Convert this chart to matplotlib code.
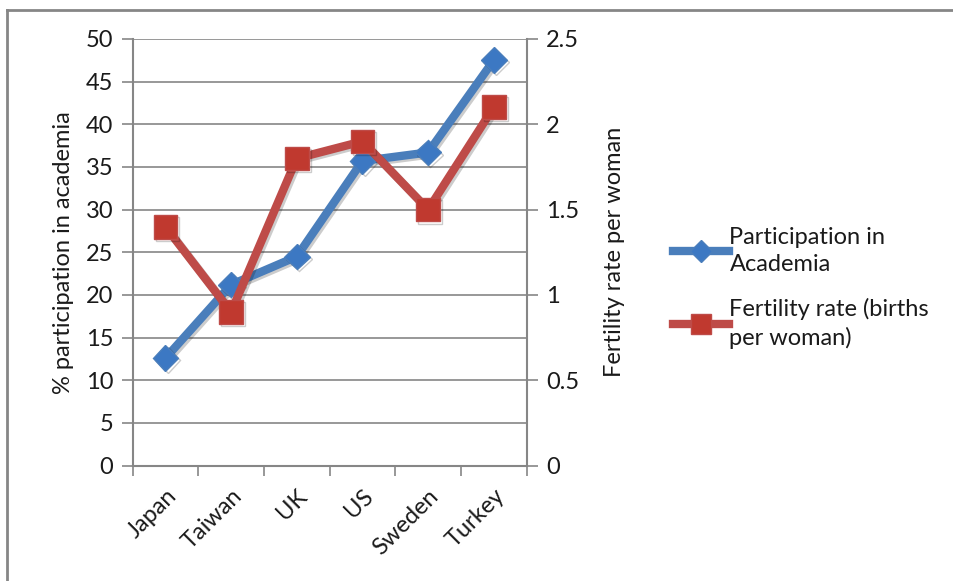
import matplotlib.pyplot as plt
import matplotlib.patheffects as pe
from matplotlib.lines import Line2D
import numpy as np

countries = ['Japan', 'Taiwan', 'UK', 'US', 'Sweden', 'Turkey']
participation = [12.6, 21.2, 24.5, 35.7, 36.7, 47.5]
fertility = [1.4, 0.9, 1.8, 1.9, 1.5, 2.1]

plt.rcParams['font.family'] = ['Lato', 'DejaVu Sans']
plt.rcParams['font.weight'] = 'normal'

blue = '#4A7EBB'
red = '#BE4B48'
grey = '#868686'
txt = '#1a1a1a'

fig = plt.figure(figsize=(9.54, 5.81), dpi=100)
ax = fig.add_axes([0.139, 0.1985, 0.413, 0.7345])
ax2 = ax.twinx()

x = np.arange(len(countries))
shadow = [pe.SimpleLineShadow(offset=(1.5, -1.5), alpha=0.2), pe.Normal()]

ax.plot(x, participation, color=blue, lw=6, marker='D', ms=13,
        mfc='#3C78C3', mec=blue, solid_joinstyle='round',
        path_effects=shadow, zorder=3)
ax2.plot(x, fertility, color=red, lw=6, marker='s', ms=17,
         mfc='#C0392F', mec=red, solid_joinstyle='round',
         path_effects=shadow, zorder=3)

ax.set_xlim(-0.5, len(countries) - 0.5)
ax.set_ylim(0, 50)
ax2.set_ylim(0, 2.5)
ax.set_yticks(np.arange(0, 51, 5))
ax2.set_yticks(np.arange(0, 2.51, 0.5))
ax2.set_yticklabels(['0', '0.5', '1', '1.5', '2', '2.5'])

ax.grid(axis='y', color=grey, lw=1.2)
ax.set_axisbelow(True)

# category boundaries carry the tick marks, labels sit between them
ax.set_xticks(np.arange(-0.5, len(countries), 1))
ax.set_xticklabels([])
ax.set_xticks(x, minor=True)
ax.set_xticklabels(countries, minor=True, rotation=45, ha='right',
                   rotation_mode='anchor', fontsize=17, color=txt)
ax.tick_params(axis='x', which='minor', length=0, pad=14)
ax.tick_params(axis='x', which='major', length=7, width=1.2, color=grey,
               direction='out')

for a in (ax, ax2):
    for s in a.spines.values():
        s.set_visible(False)
ax.spines['left'].set_visible(True)
ax.spines['left'].set_color(grey)
ax.spines['left'].set_linewidth(1.5)
ax.spines['bottom'].set_visible(True)
ax.spines['bottom'].set_color(grey)
ax.spines['bottom'].set_linewidth(1.5)
ax2.spines['right'].set_visible(True)
ax2.spines['right'].set_color(grey)
ax2.spines['right'].set_linewidth(1.5)

ax.tick_params(axis='y', length=8, width=1.2, color=grey, labelsize=17,
               labelcolor=txt, pad=6)
ax2.tick_params(axis='y', length=8, width=1.2, color=grey, labelsize=17,
                labelcolor=txt, pad=6)

ax.set_ylabel('% participation in academia', fontsize=17, color=txt,
              labelpad=8)
ax2.set_ylabel('Fertility rate per woman', fontsize=17, color=txt,
               labelpad=18)

handles = [
    Line2D([], [], color=blue, lw=6, marker='D', ms=11, mfc='#3C78C3',
           mec=blue),
    Line2D([], [], color=red, lw=6, marker='s', ms=14, mfc='#C0392F',
           mec=red),
]
leg = fig.legend(handles, ['Participation in\nAcademia',
                           'Fertility rate (births\nper woman)'],
                 loc='center left', bbox_to_anchor=(0.683, 0.505),
                 frameon=False, fontsize=17, handlelength=2.4,
                 handletextpad=0.0, labelspacing=1.0, labelcolor=txt)
for t in leg.get_texts():
    t.set_linespacing(1.35)

# outer chart frame (top and left edges)
fig.add_artist(Line2D([0.0075, 1.0], [0.982, 0.982], color=grey, lw=2,
                      transform=fig.transFigure))
fig.add_artist(Line2D([0.0075, 0.0075], [0.0, 0.982], color=grey, lw=2,
                      transform=fig.transFigure))

fig.savefig('out.png', dpi=100)
